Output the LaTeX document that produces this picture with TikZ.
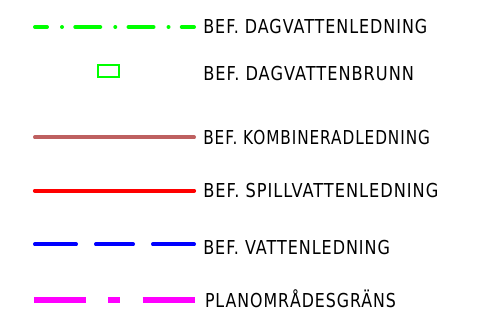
\documentclass[tikz,border=0pt]{standalone}
\usepackage{fontspec}
\setmainfont{DejaVu Sans}[LetterSpace=6]
\usepackage{graphicx}

\definecolor{dagvatten}{RGB}{0,255,0}
\definecolor{kombinerad}{RGB}{190,96,96}
\definecolor{spill}{RGB}{255,0,0}
\definecolor{vatten}{RGB}{0,0,255}
\definecolor{plangrans}{RGB}{255,0,255}

% squeeze a label horizontally to a given width (in pt)
\newcommand\fitlabel[2]{%
  \sbox0{#2}%
  \pgfmathsetmacro\lblsx{#1/\wd0}%
  \scalebox{\lblsx}[1]{\usebox0}}

\tikzset{
  legendtext/.style={anchor=base west, inner sep=0pt, outer sep=0pt,
    font=\fontsize{19.2}{20}\selectfont},
  roundline/.style={line cap=round, line width=#1},
  buttline/.style={line cap=butt, line width=#1},
}

\begin{document}
\begin{tikzpicture}[x=1pt, y=-1pt]
\useasboundingbox (0,0) rectangle (478,327);

% existing storm water pipe: dash-dot
\draw[dagvatten, roundline=4pt,
      dash pattern=on 25pt off 15pt on 0.01pt off 13.25pt,
      dash phase=13pt] (35,27) -- (194,27);
\node[legendtext] (t1) at (203.3,33.5) {\fitlabel{224}{BEF. DAGVATTENLEDNING}};

% existing storm water gully
\draw[dagvatten, line width=2pt] (97.6,65.4) rectangle (118.6,77.3);
\node[legendtext] (t2) at (203.3,80.8) {\fitlabel{210.7}{BEF. DAGVATTENBRUNN}};

% existing combined sewer
\draw[kombinerad, roundline=3.8pt] (34.9,137.3) -- (194.1,137.3);
\node[legendtext] (t3) at (203.3,144) {\fitlabel{226.7}{BEF. KOMBINERADLEDNING}};

% existing foul sewer
\draw[spill, roundline=4pt] (34.9,190.7) -- (194.1,190.7);
\node[legendtext] (t4) at (203.3,197.5) {\fitlabel{235}{BEF. SPILLVATTENLEDNING}};

% existing water main: long dashes
\draw[vatten, roundline=3.8pt]
  (34.9,244.3) -- (76.1,244.3)
  (95.9,244.3) -- (133.1,244.3)
  (152.9,244.3) -- (194.1,244.3);
\node[legendtext] (t5) at (203.3,254.7) {\fitlabel{186.7}{BEF. VATTENLEDNING}};

% plan area boundary: dash-short dash-dash
\draw[plangrans, buttline=5.5pt]
  (34.3,300) -- (86,300)
  (108.3,300) -- (120,300)
  (142.7,300) -- (195,300);
\node[legendtext] (t6) at (205,307.5) {\fitlabel{191}{PLANOMRÅDESGRÄNS}};
\end{tikzpicture}
\end{document}
